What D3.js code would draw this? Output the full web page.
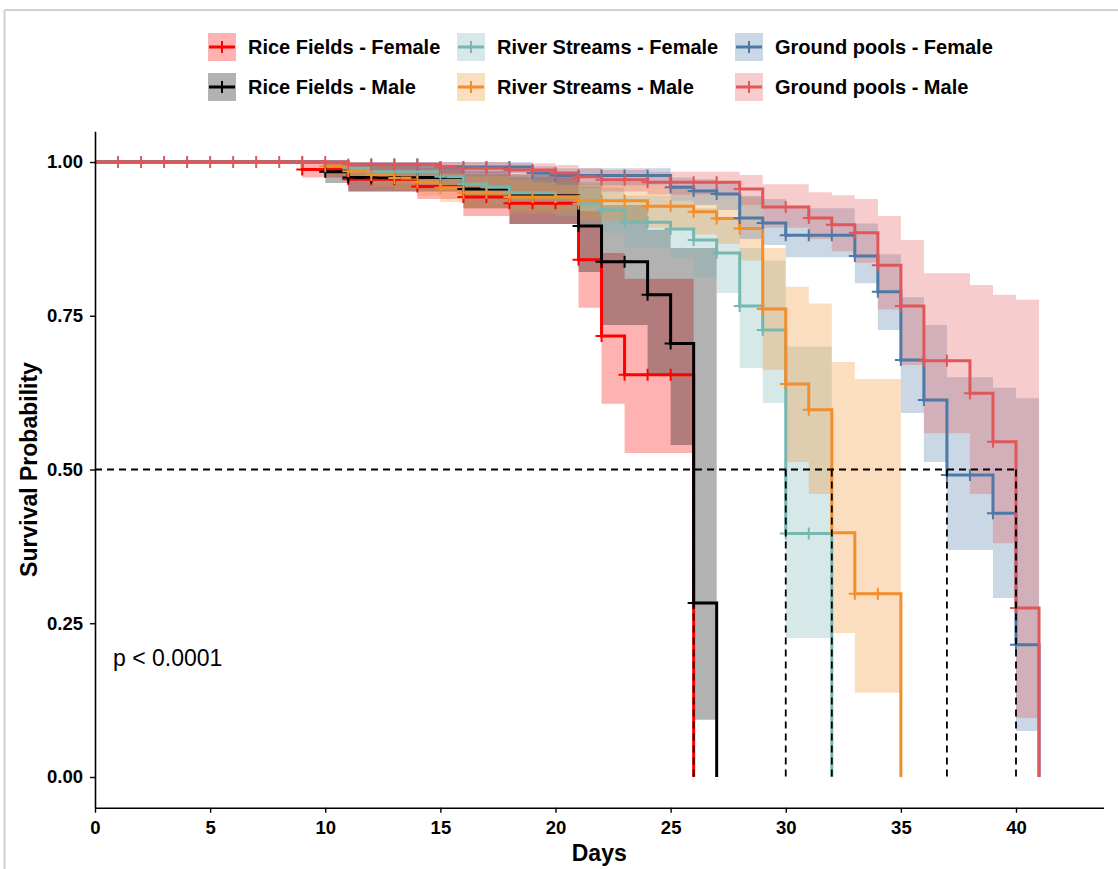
<!DOCTYPE html>
<html>
<head>
<meta charset="utf-8">
<script src="https://cdn.jsdelivr.net/npm/d3@7"></script>
<style>
  body { margin: 0; background: #fff; }
  svg { display: block; font-family: "Liberation Sans", Arial, Helvetica, sans-serif; }
</style>
</head>
<body>
<div id="chart"></div>
<script>
// --- Data ---
// Rice Fields - Female
const rfFemaleTime  = [0, 9, 11, 14, 16, 18, 21, 22, 23, 26];
const rfFemaleSurv  = [1, 0.988, 0.972, 0.960, 0.943, 0.933, 0.841, 0.717, 0.654, 0];
const rfFemaleUpper = [1, 1, 0.995, 0.99, 0.98, 0.975, 0.92, 0.852, 0.81];
const rfFemaleLower = [1, 0.975, 0.952, 0.94, 0.912, 0.899, 0.763, 0.607, 0.527];
const rfFemaleCensor = [9, 11, 12, 13, 14, 16, 17, 18, 19, 20, 21, 22, 23, 24, 25];

// Rice Fields - Male
const rfMaleTime  = [0, 10, 11, 16, 18, 21, 22, 24, 25, 26, 27];
const rfMaleSurv  = [1, 0.984, 0.975, 0.956, 0.945, 0.896, 0.838, 0.784, 0.705, 0.283, 0];
const rfMaleUpper = [1, 1, 0.995, 0.985, 0.98, 0.96, 0.93, 0.89, 0.86, 0.86];
const rfMaleLower = [1, 0.966, 0.952, 0.925, 0.899, 0.821, 0.735, 0.654, 0.54, 0.093];
const rfMaleCensor = [10, 11, 12, 13, 14, 15, 16, 21, 22, 23, 24, 25, 26];

// River Streams - Female
const rsFemaleTime  = [0, 11, 12, 15, 16, 17, 18, 20, 21, 22, 23, 25, 26, 27, 28, 29, 30, 32];
const rsFemaleSurv  = [1, 0.990, 0.984, 0.976, 0.964, 0.959, 0.950, 0.943, 0.932, 0.922, 0.902, 0.891, 0.873, 0.852, 0.766, 0.727, 0.396, 0];
const rsFemaleUpper = [1, 1, 1, 0.995, 0.988, 0.985, 0.978, 0.973, 0.965, 0.958, 0.945, 0.937, 0.925, 0.91, 0.86, 0.84, 0.70];
const rsFemaleLower = [1, 0.975, 0.965, 0.955, 0.94, 0.932, 0.92, 0.912, 0.897, 0.885, 0.86, 0.845, 0.813, 0.787, 0.665, 0.608, 0.226];
const rsFemaleCensor = [11, 12, 13, 14, 15, 16, 17, 18, 20, 21, 22, 23, 24, 25, 26, 27, 28, 29, 30, 31];

// River Streams - Male
const rsMaleTime  = [0, 10, 11, 12, 13, 14, 15, 16, 18, 21, 24, 26, 27, 28, 29, 30, 31, 32, 33, 35];
const rsMaleSurv  = [1, 0.993, 0.985, 0.979, 0.974, 0.967, 0.958, 0.950, 0.943, 0.937, 0.928, 0.919, 0.908, 0.892, 0.761, 0.639, 0.597, 0.397, 0.298, 0];
const rsMaleUpper = [1, 1, 1, 0.995, 0.992, 0.988, 0.982, 0.977, 0.972, 0.968, 0.962, 0.955, 0.948, 0.943, 0.86, 0.797, 0.77, 0.675, 0.647];
const rsMaleLower = [1, 0.98, 0.968, 0.96, 0.954, 0.945, 0.935, 0.925, 0.915, 0.905, 0.893, 0.882, 0.867, 0.84, 0.662, 0.512, 0.46, 0.234, 0.137];
const rsMaleCensor = [9, 10, 11, 12, 13, 14, 15, 16, 17, 18, 19, 20, 21, 22, 23, 24, 25, 26, 27, 28, 29, 30, 31, 33, 34];

// Ground pools - Female
const gpFemaleTime  = [0, 11, 15, 19, 20, 25, 26, 27, 28, 29, 30, 33, 34, 35, 36, 37, 39, 40, 41];
const gpFemaleSurv  = [1, 0.996, 0.992, 0.982, 0.978, 0.959, 0.953, 0.948, 0.909, 0.901, 0.881, 0.847, 0.789, 0.678, 0.613, 0.491, 0.429, 0.215, 0];
const gpFemaleUpper = [1, 1, 1, 0.993, 0.99, 0.975, 0.972, 0.968, 0.945, 0.94, 0.925, 0.90, 0.85, 0.78, 0.735, 0.65, 0.633, 0.616];
const gpFemaleLower = [1, 0.988, 0.982, 0.967, 0.962, 0.937, 0.93, 0.922, 0.875, 0.865, 0.845, 0.803, 0.727, 0.592, 0.512, 0.369, 0.291, 0.075];
const gpFemaleCensor = [12, 13, 14, 15, 16, 17, 18, 19, 20, 21, 22, 23, 24, 25, 26, 27, 28, 29, 30,
                        31, 32, 33, 34, 35, 36, 37, 38, 39, 40];

// Ground pools - Male
const gpMaleTime  = [0, 11, 15, 16, 18, 20, 21, 22, 24, 28, 29, 31, 32, 33, 34, 35, 36, 38, 39, 40, 41];
const gpMaleSurv  = [1, 0.996, 0.992, 0.990, 0.987, 0.982, 0.976, 0.971, 0.967, 0.956, 0.927, 0.909, 0.898, 0.885, 0.832, 0.766, 0.677, 0.624, 0.545, 0.275, 0];
const gpMaleUpper = [1, 1, 1, 1, 0.998, 0.995, 0.99, 0.987, 0.984, 0.979, 0.964, 0.951, 0.946, 0.940, 0.912, 0.873, 0.819, 0.80, 0.784, 0.776];
const gpMaleLower = [1, 0.985, 0.98, 0.977, 0.972, 0.965, 0.958, 0.952, 0.947, 0.93, 0.893, 0.875, 0.855, 0.836, 0.76, 0.67, 0.559, 0.46, 0.38, 0.096];
const gpMaleCensor = [1, 2, 3, 4, 5, 6, 7, 8, 9, 10, 11, 12, 13, 14, 15, 16, 17, 18, 19, 20, 21, 22, 23, 24,
                      25, 26, 27, 28, 30, 31, 32, 33, 34, 35, 36, 37, 38, 39, 40];

// Median survival times (dashed guides)
const medianTimes = [26, 30, 32, 37, 40];
const xTicks = [0, 5, 10, 15, 20, 25, 30, 35, 40];
const yTicks = [0, 0.25, 0.5, 0.75, 1];
const pValueLabel = "p < 0.0001";

const strata = [
    { name: "Rice Fields - Female", color: "#FF0000", time: rfFemaleTime, surv: rfFemaleSurv, upper: rfFemaleUpper, lower: rfFemaleLower, censor: rfFemaleCensor },
    { name: "Rice Fields - Male", color: "#000000", time: rfMaleTime, surv: rfMaleSurv, upper: rfMaleUpper, lower: rfMaleLower, censor: rfMaleCensor },
    { name: "River Streams - Female", color: "#76B7B2", time: rsFemaleTime, surv: rsFemaleSurv, upper: rsFemaleUpper, lower: rsFemaleLower, censor: rsFemaleCensor },
    { name: "River Streams - Male", color: "#F28E2B", time: rsMaleTime, surv: rsMaleSurv, upper: rsMaleUpper, lower: rsMaleLower, censor: rsMaleCensor },
    { name: "Ground pools - Female", color: "#4E79A7", time: gpFemaleTime, surv: gpFemaleSurv, upper: gpFemaleUpper, lower: gpFemaleLower, censor: gpFemaleCensor },
    { name: "Ground pools - Male", color: "#E15759", time: gpMaleTime, surv: gpMaleSurv, upper: gpMaleUpper, lower: gpMaleLower, censor: gpMaleCensor }
];

// --- Setup ---
const W = 1118, H = 869;
const plot = { left: 95, right: 1104, top: 131.25, bottom: 807.75 };

const svg = d3.select("#chart").append("svg")
    .attr("width", W)
    .attr("height", H);

// light frame lines from the original screenshot
svg.append("line").attr("x1", 4.5).attr("x2", 4.5).attr("y1", 10).attr("y2", H)
    .attr("stroke", "#d0d0d0").attr("stroke-width", 2);
svg.append("line").attr("x1", 4.5).attr("x2", W).attr("y1", 10).attr("y2", 10)
    .attr("stroke", "#d0d0d0").attr("stroke-width", 2);

const x = d3.scaleLinear().domain([0, 43.8]).range([plot.left, plot.left + 43.8 * 23.025]);
const y = d3.scaleLinear().domain([-0.05, 1.05]).range([plot.bottom, plot.top]);

function survAt(st, day) {
    let i = d3.bisectRight(st.time, day) - 1;
    return st.surv[Math.max(0, i)];
}

// --- Confidence ribbons ---
const area = d3.area()
    .curve(d3.curveStepAfter)
    .x(d => x(d.t))
    .y0(d => y(d.lo))
    .y1(d => y(d.up));

const ribbons = svg.append("g");
strata.forEach(st => {
    const n = st.upper.length;
    const pts = st.upper.map((u, i) => ({ t: st.time[i], up: u, lo: st.lower[i] }));
    pts.push({ t: st.time[n], up: st.upper[n - 1], lo: st.lower[n - 1] });
    ribbons.append("path")
        .datum(pts)
        .attr("d", area)
        .attr("fill", st.color)
        .attr("fill-opacity", 0.3);
});

// --- Survival step lines ---
const line = d3.line()
    .curve(d3.curveStepAfter)
    .x(d => x(d.t))
    .y(d => y(d.s));

const lines = svg.append("g");
strata.forEach(st => {
    const pts = st.time.map((t, i) => ({ t: t, s: st.surv[i] }));
    lines.append("path")
        .datum(pts)
        .attr("d", line)
        .attr("fill", "none")
        .attr("stroke", st.color)
        .attr("stroke-width", 3)
        .attr("stroke-linejoin", "miter");
});

// --- Censor marks ---
const marks = svg.append("g");
const ms = 6;
strata.forEach(st => {
    st.censor.forEach(day => {
        const cx = x(day), cy = y(survAt(st, day));
        marks.append("path")
            .attr("d", `M${cx - ms},${cy}H${cx + ms}M${cx},${cy - ms}V${cy + ms}`)
            .attr("stroke", st.color)
            .attr("stroke-width", 2)
            .attr("fill", "none");
    });
});

// --- Median lines ---
const med = svg.append("g")
    .attr("stroke", "#000")
    .attr("stroke-width", 1.8)
    .attr("stroke-dasharray", "7,5")
    .attr("fill", "none");
med.append("line")
    .attr("x1", x(0)).attr("x2", x(d3.max(medianTimes)))
    .attr("y1", y(0.5)).attr("y2", y(0.5));
medianTimes.forEach(t => {
    med.append("line")
        .attr("x1", x(t)).attr("x2", x(t))
        .attr("y1", y(0.5)).attr("y2", y(0));
});

// --- Axes ---
const yAxis = svg.append("g")
    .attr("transform", `translate(${plot.left},0)`)
    .call(d3.axisLeft(y).tickValues(yTicks).tickFormat(d3.format(".2f")).tickSize(5).tickSizeOuter(0));
const xAxis = svg.append("g")
    .attr("transform", `translate(0,${plot.bottom})`)
    .call(d3.axisBottom(x).tickValues(xTicks).tickFormat(d3.format("d")).tickSize(5).tickSizeOuter(0));

[xAxis, yAxis].forEach(g => {
    g.select(".domain").attr("stroke", "#000").attr("stroke-width", 1.6);
    g.selectAll(".tick line").attr("stroke", "#000").attr("stroke-width", 1.4);
    g.selectAll(".tick text")
        .attr("fill", "#000")
        .style("font-size", "18.5px")
        .style("font-weight", "bold")
        .style("font-family", '"Liberation Sans", Arial, sans-serif');
});
yAxis.selectAll(".tick text").attr("x", -12);
xAxis.selectAll(".tick text").attr("y", 13);

svg.append("text")
    .attr("x", (x(0) + x(43.8)) / 2)
    .attr("y", 861)
    .attr("text-anchor", "middle")
    .style("font-size", "23px")
    .style("font-weight", "bold")
    .text("Days");

svg.append("text")
    .attr("transform", `translate(37,${(plot.top + plot.bottom) / 2}) rotate(-90)`)
    .attr("text-anchor", "middle")
    .style("font-size", "23px")
    .style("font-weight", "bold")
    .text("Survival Probability");

svg.append("text")
    .attr("x", 113)
    .attr("y", 666)
    .style("font-size", "23px")
    .text(pValueLabel);

// --- Legend (2 rows, filled by column) ---
const legendCols = [208, 457, 735];
const legendRows = [47, 87];
const legend = svg.append("g");
strata.forEach((st, i) => {
    const lx = legendCols[Math.floor(i / 2)];
    const ly = legendRows[i % 2];
    const item = legend.append("g").attr("transform", `translate(${lx},${ly})`);
    item.append("rect")
        .attr("x", 0).attr("y", -14)
        .attr("width", 28).attr("height", 28)
        .attr("fill", st.color).attr("fill-opacity", 0.3);
    item.append("line")
        .attr("x1", 1).attr("x2", 27).attr("y1", 0).attr("y2", 0)
        .attr("stroke", st.color).attr("stroke-width", 3);
    item.append("line")
        .attr("x1", 14).attr("x2", 14).attr("y1", -6).attr("y2", 6)
        .attr("stroke", st.color).attr("stroke-width", 2);
    item.append("text")
        .attr("x", 40)
        .attr("y", 7)
        .style("font-size", "20px")
        .style("font-weight", "bold")
        .text(st.name);
});
</script>
</body>
</html>
